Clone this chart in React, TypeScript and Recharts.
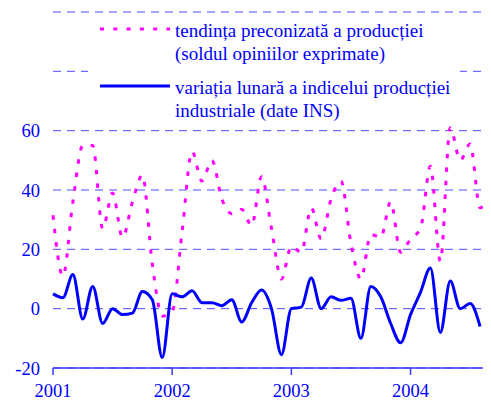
import { LineChart, Line, XAxis, YAxis, CartesianGrid } from "recharts";

const YEAR_LABELS = ["2001", "2002", "2003", "2004"];
const YEAR_TICKS = [0, 12, 24, 36];
const Y_TICKS = [-20, 0, 20, 40, 60, 80, 100];

// month index 0 = Jan 2001
const TENDINTA = [
  31.5, 11, 36, 55, 55, 27, 39, 24, 36, 45, 15, -2.5,
  -1, 26, 53, 43, 50, 37, 32, 33.5, 28, 44.5, 27, 10,
  21, 19, 34, 23.5, 37, 43, 22, 10, 25, 24, 36, 19,
  23.5, 27, 48, 16, 61, 50, 55.5, 34, 37,
];

const VARIATIA = [
  5, 3.7, 11.5, -3.5, 7.5, -5, 0, -2, -1.5, 5.8, 3, -16.5,
  5, 4, 6, 2, 2, 1, 3, -4.5, 2, 6.3, 0, -15.5,
  0, 0.5, 10.3, 0, 4, 2.8, 3.5, -10, 7.5, 4, -5, -11.5,
  -2, 5.5, 13.7, -8, 9.3, 0, 1.7, -6,
];

const rows = TENDINTA.map((v, i) => ({
  m: i,
  tend: v,
  varia: i < VARIATIA.length ? VARIATIA[i] : null,
}));

const BLUE = "#0000ff";
const AXIS_BLUE = "#3838ff";
const MAGENTA = "#ff00ff";
const SERIF = "Liberation Serif, DejaVu Serif, serif";

const tickStyle = { fill: BLUE, fontSize: 18.5, fontFamily: SERIF };

export default function App() {
  return (
    <div style={{ position: "relative", width: 491, height: 401, margin: "-8px 0 0 -8px", background: "#fff" }}>
      <LineChart width={491} height={401} data={rows} margin={{ top: 12, right: 1, bottom: 0, left: 0 }}>
        <CartesianGrid vertical={false} stroke="#4d4dff" strokeDasharray="8 6" />
        <XAxis
          dataKey="m"
          type="number"
          domain={[0, 44]}
          ticks={YEAR_TICKS}
          tickFormatter={(v) => YEAR_LABELS[v / 12]}
          height={33}
          tick={tickStyle}
          axisLine={{ stroke: AXIS_BLUE, strokeWidth: 1.5 }}
          tickLine={{ stroke: AXIS_BLUE, strokeWidth: 1.5 }}
          tickSize={7}
          tickMargin={9}
        />
        <YAxis
          type="number"
          domain={[-20, 100]}
          ticks={Y_TICKS}
          tickFormatter={(v) => (v > 60 ? "" : String(v))}
          width={53}
          tick={tickStyle}
          axisLine={false}
          tickLine={false}
          tickSize={6}
          tickMargin={7}
        />
        <Line
          type="monotone"
          dataKey="tend"
          stroke={MAGENTA}
          strokeWidth={3}
          strokeDasharray="4.5 9"
          dot={false}
          isAnimationActive={false}
        />
        <Line
          type="monotone"
          dataKey="varia"
          stroke={BLUE}
          strokeWidth={3}
          dot={false}
          isAnimationActive={false}
        />
      </LineChart>

      {/* legend box, covers the upper gridline like the original */}
      <div style={{ position: "absolute", left: 88, top: 18, width: 372, height: 108, background: "#fff" }} />
      <svg style={{ position: "absolute", left: 0, top: 0 }} width={491} height={130}>
        <line x1={100} y1={29} x2={170} y2={29} stroke={MAGENTA} strokeWidth={3} strokeDasharray="4 9.3" />
        <line x1={100} y1={86} x2={170} y2={86} stroke={BLUE} strokeWidth={3} />
      </svg>
      <div style={{ position: "absolute", left: 175, top: 19, fontFamily: SERIF, fontSize: 19, lineHeight: "23px", color: BLUE, whiteSpace: "nowrap" }}>
        tendința preconizată a producției
        <br />
        (soldul opiniilor exprimate)
      </div>
      <div style={{ position: "absolute", left: 175, top: 76, fontFamily: SERIF, fontSize: 19, lineHeight: "23px", color: BLUE, whiteSpace: "nowrap" }}>
        variația lunară a indicelui producției
        <br />
        industriale (date INS)
      </div>
    </div>
  );
}
